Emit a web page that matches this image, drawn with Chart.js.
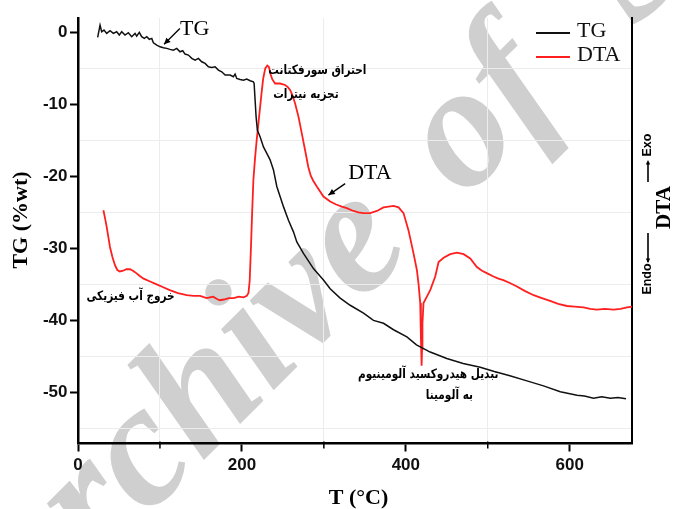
<!DOCTYPE html>
<html>
<head>
<meta charset="utf-8">
<script src="https://cdn.jsdelivr.net/npm/chart.js@4.4.0/dist/chart.umd.min.js"></script>
<style>
  html, body { margin: 0; padding: 0; background: #fff; }
  #wrap { width: 673px; height: 509px; }
</style>
</head>
<body>
<div id="wrap"><canvas id="c" width="673" height="509"></canvas></div>
<script>
// ---- series: temperature (°C) and mass loss / DTA signal ----
const tgT = [24.0, 26.9, 28.9, 31.7, 35.0, 39.1, 43.1, 47.2, 50.4, 53.3, 57.4, 61.4, 65.5, 69.6, 71.6, 74.8,
  77.7, 80.9, 83.9, 87.1, 90.0, 92.0, 96.1, 100.1, 104.2, 108.3, 112.3, 116.4, 120.5, 124.5, 127.8, 130.6,
  134.7, 138.8, 142.9, 146.9, 151.0, 155.1, 159.1, 163.2, 167.3, 171.3, 175.4, 179.5, 183.5, 185.6, 189.6,
  191.7, 193.7, 197.8, 201.8, 205.9, 210.0, 214.0, 214.9, 216.1, 217.3, 218.9, 222.2, 226.3, 230.4, 234.4,
  238.5, 242.6, 246.6, 250.7, 256.8, 262.9, 267.0, 275.1, 287.3, 299.5, 307.7, 319.9, 332.1, 348.4, 360.5,
  372.8, 385.0, 401.3, 413.0, 429.8, 450.0, 470.0, 490.8, 508.0, 527.0, 547.8, 568.0, 588.5, 608.9, 618.0,
  629.0, 639.0, 649.6, 659.0, 668.7];
const tgV = [-0.70, 1.01, 0.09, 0.32, -0.14, 0.23, -0.14, 0.09, -0.37, 0.09, -0.37, -0.05, -0.60, -0.14, -0.51, 0.00,
  -0.60, -0.83, -0.60, -0.97, -0.83, -1.44, -1.76, -2.00, -2.14, -2.22, -2.36, -2.46, -2.22, -2.69, -2.55, -3.01,
  -3.15, -3.61, -3.85, -3.61, -4.08, -4.31, -4.78, -4.86, -4.78, -5.24, -5.47, -5.93, -5.93, -5.93, -6.16,
  -5.79, -6.39, -6.53, -6.63, -6.49, -6.72, -6.86, -7.08, -9.4, -11.7, -13.6, -14.5, -15.9, -16.8, -17.7,
  -19.1, -21.4, -22.8, -24.2, -26.1, -27.7, -29.1, -30.7, -32.8, -34.4, -35.6, -36.9, -37.9, -39.0, -40.0,
  -40.4, -41.3, -42.3, -43.4, -44.4, -45.3, -46.0, -46.5, -47.1, -47.7, -48.4, -49.1, -49.9, -50.4, -50.5,
  -50.8, -50.6, -50.8, -50.7, -50.9];

const dtaT = [31, 33, 35, 37, 39, 42, 45, 48, 51, 55, 59, 63.5, 67, 69.6, 75, 80, 88, 96, 104, 112, 122, 132.7,
  141, 149, 157, 161, 165, 169, 173, 178, 184, 190, 196, 202, 206, 208, 209.5, 211, 212.5, 214, 216, 218, 220,
  222, 224, 226, 228.5, 231, 233, 235, 237, 240.5, 246.6, 252.7, 256, 258.8, 262, 265, 269, 273, 277, 281, 284,
  287, 291.4, 299.5, 307.7, 315, 322, 328, 336, 342, 348.4, 356.5, 364.7, 372.8, 379, 385, 391.1, 397.2, 403.3,
  409.4, 413.5, 415.5, 417.6, 418.4, 419.3, 419.8, 420.3, 421.6, 425.7, 429.8, 435.9, 440, 446.1, 454.2, 462.4,
  470.5, 478.6, 486.7, 493, 500, 507, 513, 519, 527, 535.6, 545, 556, 566, 576, 586, 596.6, 606, 617, 625, 633,
  643, 653.6, 662, 670, 676];
const dtaV = [-24.7, -25.8, -27.0, -28.4, -29.8, -31.2, -32.3, -33.0, -33.2, -33.1, -32.9, -32.9, -33.1, -33.3,
  -33.8, -34.2, -34.6, -35.0, -35.4, -35.8, -36.2, -36.5, -36.6, -36.6, -36.9, -36.8, -36.7, -37.0, -37.2, -37.1,
  -36.9, -36.9, -36.7, -36.8, -36.6, -36.2, -34.5, -30.0, -25.0, -20.5, -17.5, -15.0, -12.8, -10.6, -8.4, -6.4,
  -5.0, -4.6, -4.8, -5.8, -6.5, -7.1, -7.1, -7.3, -7.6, -8.0, -8.8, -9.9, -11.7, -14.0, -16.3, -18.7, -19.9,
  -20.6, -21.4, -22.8, -23.5, -23.9, -24.2, -24.4, -24.8, -25.0, -25.1, -25.1, -24.8, -24.3, -24.2, -24.1,
  -24.3, -25.1, -27.5, -30.7, -33.0, -34.9, -37.6, -42.3, -46.3, -44.0, -40.4, -37.6, -36.7, -35.8, -33.9,
  -31.9, -31.3, -30.8, -30.6, -30.8, -31.4, -32.6, -33.1, -33.5, -33.9, -34.2, -34.4, -34.8, -35.3, -35.9,
  -36.5, -36.9, -37.3, -37.7, -38.0, -38.1, -38.2, -38.4, -38.5, -38.4, -38.5, -38.4, -38.2, -38.1];

const seriesNames = ['TG', 'DTA'];
const xMajorTicks = [0, 200, 400, 600];
const xMinorTicks = [100, 300, 500];
const yMajorTicks = [0, -10, -20, -30, -40, -50];
const yMinorTicks = [-5, -15, -25, -35, -45, -55];
const xTitle = 'T (°C)';
const yTitle = 'TG (%wt)';
const y2Title = 'DTA';
const exoLabel = 'Exo';
const endoLabel = 'Endo';
const watermarkWords = ['Archive', 'of', 'SID'];

// Persian process notes, placed in data coordinates (right edge of each line)
const notes = [
  { text: 'احتراق سورفکتانت', x: 352, y: -5.3 },
  { text: 'تجزیه نیترات', x: 318, y: -8.7 },
  { text: 'خروج آب فیزیکی', x: 118, y: -36.7 },
  { text: 'تبدیل هیدروکسید آلومینیوم', x: 513, y: -47.6 },
  { text: 'به آلومینا', x: 482, y: -50.4 }
];
// curve callouts: label anchor and arrow tail/tip in data coordinates
const callouts = [
  { text: 'TG', x: 124.5, y: 0.45, from: [124.3, 0.55], to: [105, -1.65] },
  { text: 'DTA', x: 329.7, y: -19.6, from: [326, -21.0], to: [305.6, -22.6] }
];

const COLORS = { tg: '#111111', dta: '#ff1f1f' };
const SANS = '"Liberation Sans", Arial, Helvetica, sans-serif';
const SERIF = '"Liberation Serif", "Times New Roman", Times, serif';

function arrowHead(ctx, x1, y1, x2, y2, size) {
  const a = Math.atan2(y2 - y1, x2 - x1);
  ctx.beginPath();
  ctx.moveTo(x2, y2);
  ctx.lineTo(x2 - size * Math.cos(a - 0.45), y2 - size * Math.sin(a - 0.45));
  ctx.lineTo(x2 - size * Math.cos(a + 0.45), y2 - size * Math.sin(a + 0.45));
  ctx.closePath();
  ctx.fill();
}

const backdrop = {
  id: 'backdrop',
  beforeDraw(chart) {
    const ctx = chart.ctx;
    ctx.save();
    ctx.fillStyle = '#ffffff';
    ctx.fillRect(0, 0, chart.width, chart.height);
    // diagonal watermark, words set with wide gaps
    ctx.translate(16, 648);
    ctx.rotate(-Math.PI / 4);
    ctx.fillStyle = 'rgb(207,207,207)';
    ctx.font = 'italic bold 175px ' + SERIF;
    ctx.textBaseline = 'alphabetic';
    ctx.textAlign = 'left';
    const gaps = [0, 70, 95];
    let pos = 0;
    watermarkWords.forEach((w, i) => {
      pos += gaps[i];
      ctx.fillText(w, pos, 0);
      pos += ctx.measureText(w).width;
    });
    ctx.restore();
  }
};

const decorations = {
  id: 'decorations',
  afterDraw(chart) {
    const ctx = chart.ctx;
    const xs = chart.scales.x, ys = chart.scales.y;
    const area = chart.chartArea;
    ctx.save();

    // short minor ticks under the temperature axis
    ctx.strokeStyle = '#000';
    ctx.lineWidth = 1.5;
    xMinorTicks.forEach(v => {
      const px = xs.getPixelForValue(v);
      ctx.beginPath(); ctx.moveTo(px, area.bottom - 2); ctx.lineTo(px, area.bottom + 5); ctx.stroke();
    });

    // Persian notes (condensed bold face)
    ctx.fillStyle = '#000';
    ctx.font = 'bold 13px "DejaVu Sans", sans-serif';
    ctx.textAlign = 'right';
    ctx.textBaseline = 'middle';
    ctx.direction = 'rtl';
    notes.forEach(n => {
      ctx.save();
      ctx.translate(xs.getPixelForValue(n.x), ys.getPixelForValue(n.y));
      ctx.scale(0.81, 1);
      ctx.fillText(n.text, 0, 0);
      ctx.restore();
    });
    ctx.direction = 'ltr';

    // callouts with arrows
    ctx.font = '22px ' + SERIF;
    ctx.textAlign = 'left';
    ctx.strokeStyle = '#000';
    ctx.fillStyle = '#000';
    ctx.lineWidth = 1.3;
    callouts.forEach(c => {
      ctx.fillText(c.text, xs.getPixelForValue(c.x), ys.getPixelForValue(c.y));
      const x1 = xs.getPixelForValue(c.from[0]), y1 = ys.getPixelForValue(c.from[1]);
      const x2 = xs.getPixelForValue(c.to[0]), y2 = ys.getPixelForValue(c.to[1]);
      ctx.beginPath(); ctx.moveTo(x1, y1); ctx.lineTo(x2, y2); ctx.stroke();
      arrowHead(ctx, x1, y1, x2, y2, 7);
    });

    // legend, top right inside the plot
    const ds = chart.data.datasets;
    const lx = area.right - 96, ly = area.top + 15;
    ds.forEach((d, i) => {
      const y = ly + i * 24;
      ctx.strokeStyle = d.borderColor;
      ctx.lineWidth = 2;
      ctx.beginPath(); ctx.moveTo(lx, y); ctx.lineTo(lx + 34, y); ctx.stroke();
      ctx.fillStyle = '#111';
      ctx.font = '22px ' + SERIF;
      ctx.textAlign = 'left';
      ctx.fillText(d.label, lx + 41, y - 1.5);
    });

    // axis titles
    ctx.fillStyle = '#000';
    ctx.font = 'bold 22px ' + SERIF;
    ctx.textAlign = 'center';
    ctx.fillText(xTitle, (area.left + area.right) / 2 + 3.5, 498);
    ctx.save();
    ctx.translate(21, 220);
    ctx.rotate(-Math.PI / 2);
    ctx.fillText(yTitle, 0, 0);
    ctx.restore();

    // right axis: DTA with exo / endo directions
    ctx.save();
    ctx.translate(area.right + 33, 207.5);
    ctx.rotate(-Math.PI / 2);
    ctx.font = 'bold 21px ' + SERIF;
    ctx.fillText(y2Title, 0, 0);
    ctx.restore();

    ctx.save();
    ctx.translate(area.right + 16, 0);
    ctx.rotate(-Math.PI / 2);
    ctx.font = 'bold 12.5px ' + SANS;
    ctx.textAlign = 'center';
    ctx.fillText(exoLabel, -145, 0);
    ctx.fillText(endoLabel, -279, 0);
    ctx.lineWidth = 1.6;
    ctx.strokeStyle = '#000';
    ctx.beginPath(); ctx.moveTo(-182, 0); ctx.lineTo(-162, 0); ctx.stroke();
    arrowHead(ctx, -182, 0, -160, 0, 5);
    ctx.beginPath(); ctx.moveTo(-233, 0); ctx.lineTo(-262, 0); ctx.stroke();
    arrowHead(ctx, -233, 0, -263, 0, 5);
    ctx.restore();

    ctx.restore();
  }
};

const tickFont = { family: SANS, size: 17, weight: 'bold' };
const isIn = (arr, v) => arr.some(a => Math.abs(a - v) < 1e-6);

new Chart(document.getElementById('c'), {
  type: 'line',
  data: {
    datasets: [
      { label: seriesNames[0], data: tgT.map((t, i) => ({ x: t, y: tgV[i] })), yAxisID: 'y',
        borderColor: COLORS.tg, borderWidth: 1.5, pointRadius: 0, tension: 0, fill: false },
      { label: seriesNames[1], data: dtaT.map((t, i) => ({ x: t, y: dtaV[i] })), yAxisID: 'y2',
        borderColor: COLORS.dta, borderWidth: 1.8, pointRadius: 0, tension: 0, fill: false }
    ]
  },
  options: {
    responsive: false,
    animation: false,
    layout: { padding: { top: 18, left: 0, right: 0, bottom: 0 } },
    plugins: { legend: { display: false }, tooltip: { enabled: false } },
    scales: {
      x: {
        type: 'linear', min: 0, max: 676,
        afterBuildTicks(s) {
          s.ticks = [...xMajorTicks, ...xMinorTicks].sort((a, b) => a - b).map(v => ({ value: v }));
        },
        afterFit(s) { s.height = 65.5; },
        ticks: {
          autoSkip: false, maxRotation: 0, padding: 4, color: '#111', font: tickFont,
          callback: v => isIn(xMajorTicks, v) ? String(v) : ''
        },
        grid: {
          color: c => (c.tick && isIn(xMinorTicks, c.tick.value)) ? '#ececec' : 'rgba(0,0,0,0)',
          tickColor: c => (c.tick && isIn(xMajorTicks, c.tick.value)) ? '#000' : 'rgba(0,0,0,0)',
          tickLength: 8, tickWidth: 2, lineWidth: 1
        },
        border: { display: true, color: '#000', width: 2.5 }
      },
      y: {
        type: 'linear', position: 'left', min: -57.1, max: 2,
        afterBuildTicks(s) {
          s.ticks = [...yMajorTicks, ...yMinorTicks].sort((a, b) => a - b).map(v => ({ value: v }));
        },
        afterFit(s) { s.width = 78; },
        ticks: {
          autoSkip: false, padding: 2.5, color: '#111', font: tickFont,
          callback: v => isIn(yMajorTicks, v) ? String(v) : ''
        },
        grid: {
          color: c => (c.tick && isIn(yMinorTicks, c.tick.value)) ? '#ececec' : 'rgba(0,0,0,0)',
          tickColor: c => (c.tick && isIn(yMajorTicks, c.tick.value)) ? '#000' : 'rgba(0,0,0,0)',
          tickLength: 8, tickWidth: 2, lineWidth: 1
        },
        border: { display: true, color: '#000', width: 2.5 }
      },
      y2: {
        type: 'linear', position: 'right', min: -57.1, max: 2,
        afterFit(s) { s.width = 41; },
        ticks: { display: false },
        grid: { display: false, drawOnChartArea: false },
        border: { display: true, color: '#000', width: 2 }
      }
    }
  },
  plugins: [backdrop, decorations]
});
</script>
</body>
</html>
